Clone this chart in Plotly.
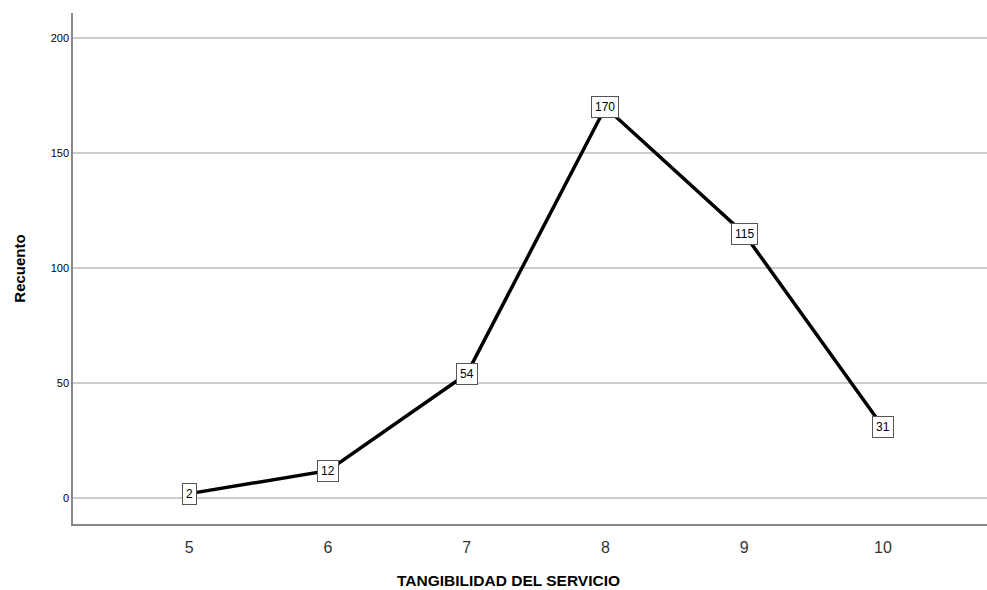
import plotly.graph_objects as go

categories = [5, 6, 7, 8, 9, 10]
counts = [2, 12, 54, 170, 115, 31]
y_ticks = [0, 50, 100, 150, 200]

fig = go.Figure()
fig.add_trace(go.Scatter(
    x=categories, y=counts, mode="lines",
    line=dict(color="black", width=3.5),
    hoverinfo="skip", showlegend=False,
))

for xv, yv in zip(categories, counts):
    fig.add_annotation(
        x=xv, y=yv, text=str(yv), showarrow=False,
        font=dict(family="Liberation Sans, Arial", size=12, color="black"),
        bgcolor="white", bordercolor="#555555", borderwidth=1, borderpad=3,
        xanchor="center", yanchor="middle",
    )

fig.add_annotation(
    x=0.476, y=0, xref="paper", yref="paper", yanchor="middle", yshift=-56,
    text="<b>TANGIBILIDAD DEL SERVICIO</b>", showarrow=False,
    font=dict(family="Liberation Sans, Arial", size=15.5, color="black"),
)

fig.update_layout(
    width=987, height=590,
    margin=dict(l=73, r=0, t=13, b=66),
    paper_bgcolor="white", plot_bgcolor="white",
    font=dict(family="Liberation Sans, Arial", color="#222222"),
    xaxis=dict(
        range=[4.162, 10.75], tickvals=categories,
        ticktext=[str(c) for c in categories],
        showgrid=False, zeroline=False,
        showline=True, linecolor="#888888", linewidth=1.5,
        ticks="", tickfont=dict(size=16, color="#333333"),
        ticklabelstandoff=8,
    ),
    yaxis=dict(
        range=[-11.2, 211], tickvals=y_ticks,
        showgrid=True, gridcolor="#cccccc", gridwidth=1.5,
        zeroline=False,
        showline=True, linecolor="#888888", linewidth=1.5,
        ticks="", tickfont=dict(size=11, color="#000000"),
        title=dict(text="<b>Recuento</b>", font=dict(size=15, color="black"), standoff=21),
    ),
)

fig.write_html("out.html", config={"displayModeBar": False},
               post_script="document.body.style.margin='0';")
